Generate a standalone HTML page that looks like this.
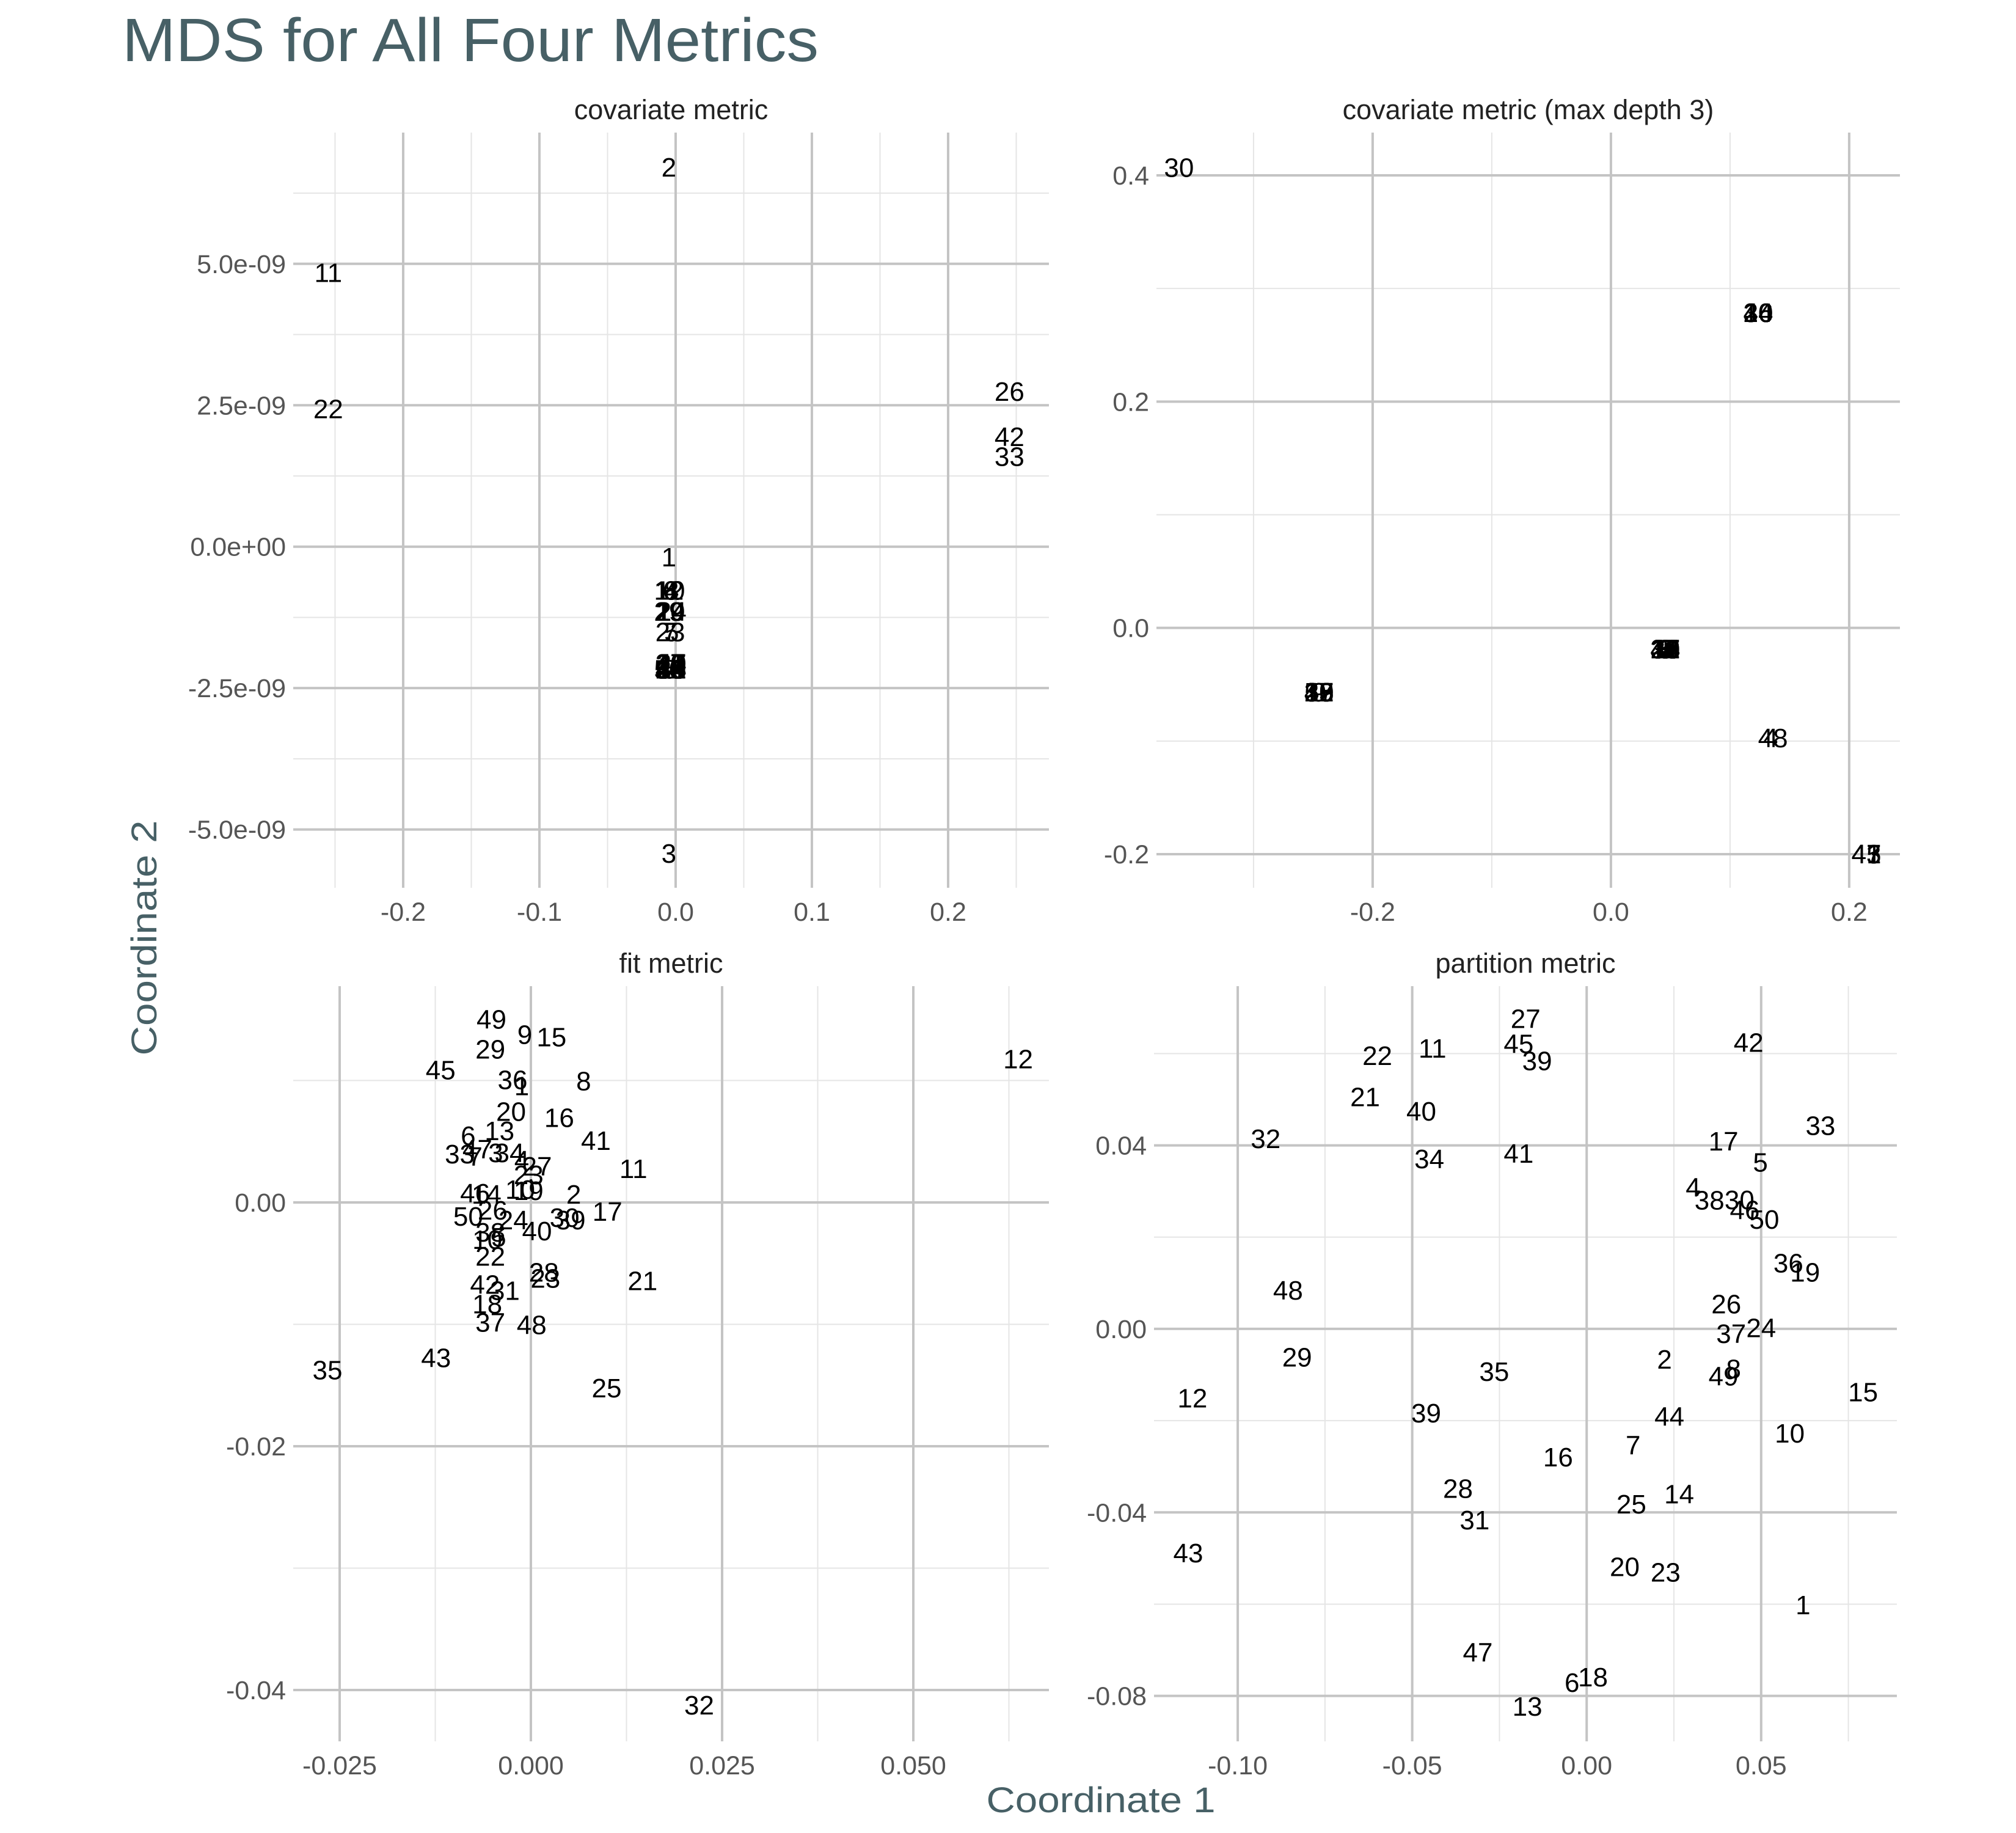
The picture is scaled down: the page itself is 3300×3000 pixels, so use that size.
<!DOCTYPE html>
<html><head><meta charset="utf-8">
<style>
html,body{margin:0;padding:0;background:#fff;}
svg{display:block;}
text{font-family:"Liberation Sans",sans-serif;}
</style></head>
<body>
<svg id="chart" width="3300" height="3000" viewBox="0 0 3300 3000" xmlns="http://www.w3.org/2000/svg">
<rect width="3300" height="3000" fill="#fff"/>
<text x="200" y="100" font-size="100" fill="#476066" textLength="1140" lengthAdjust="spacingAndGlyphs">MDS for All Four Metrics</text>
<text x="1802" y="2966" font-size="58" fill="#476066" text-anchor="middle" textLength="375" lengthAdjust="spacingAndGlyphs">Coordinate 1</text>
<text transform="translate(256,1535) rotate(-90)" font-size="58" fill="#476066" text-anchor="middle" textLength="385" lengthAdjust="spacingAndGlyphs">Coordinate 2</text>
<g id="panels"></g>
</svg>
<script>
// ---- Panel 1: covariate metric ----
const p1Labels = ["2","11","22","26","42","33","1","3",
 "10","4","6","8","12",
 "20","14","19","29","24",
 "23","5","7",
 "30","40","41","49","17","27","37","44","46","47",
 "50","38","39","9","13","15","16","18","21","28","31","32","34","35","36","43","45","48"];
const p1X = [-0.005,-0.255,-0.255,0.245,0.245,0.245,-0.005,-0.005,
 -0.004,-0.003,-0.004,-0.003,-0.005,
 -0.004,-0.003,-0.004,-0.005,-0.003,
 -0.004,-0.003,-0.004,
 -0.004,-0.003,-0.004,-0.003,-0.004,-0.003,-0.004,-0.003,-0.004,-0.003,
 -0.005,-0.004,-0.003,-0.004,-0.003,-0.004,-0.003,-0.004,-0.003,-0.004,-0.003,-0.004,-0.003,-0.004,-0.003,-0.004,-0.003,-0.004];
const p1Y = [6.67e-9,4.81e-9,2.40e-9,2.71e-9,1.91e-9,1.56e-9,-0.22e-9,-5.46e-9,
 -0.81e-9,-0.81e-9,-0.81e-9,-0.81e-9,-0.81e-9,
 -1.18e-9,-1.18e-9,-1.18e-9,-1.18e-9,-1.18e-9,
 -1.54e-9,-1.54e-9,-1.54e-9,
 -2.10e-9,-2.10e-9,-2.10e-9,-2.10e-9,-2.10e-9,-2.10e-9,-2.10e-9,-2.10e-9,-2.10e-9,-2.10e-9,
 -2.20e-9,-2.20e-9,-2.20e-9,-2.20e-9,-2.20e-9,-2.20e-9,-2.20e-9,-2.20e-9,-2.20e-9,-2.20e-9,-2.20e-9,-2.20e-9,-2.20e-9,-2.20e-9,-2.20e-9,-2.20e-9,-2.20e-9,-2.20e-9];
const p1XTicks = [-0.2,-0.1,0,0.1,0.2];
const p1XTickLabels = ["-0.2","-0.1","0.0","0.1","0.2"];
const p1XMinor = [-0.25,-0.15,-0.05,0.05,0.15,0.25];
const p1YTicks = [-5e-9,-2.5e-9,0,2.5e-9,5e-9];
const p1YTickLabels = ["-5.0e-09","-2.5e-09","0.0e+00","2.5e-09","5.0e-09"];
const p1YMinor = [-3.75e-9,-1.25e-9,1.25e-9,3.75e-9,6.25e-9];

// ---- Panel 2: covariate metric (max depth 3) ----
const p2Labels = ["30",
 "20","26","34","40","46","16","36",
 "12","22","29","32","35","49","50","9","13","15","17",
 "1","2","3","5","6","7","8","10","11","14","18","19","21","23","24","25","27","28","31","33","37","38","39","42","44",
 "4","48",
 "41","43","45","47"];
const p2X = [-0.3626,
 0.1236,0.1236,0.1236,0.1236,0.1236,0.1236,0.1236,
 -0.245,-0.245,-0.245,-0.245,-0.245,-0.245,-0.245,-0.245,-0.245,-0.245,-0.245,
 0.0456,0.0456,0.0456,0.0456,0.0456,0.0456,0.0456,0.0456,0.0456,0.0456,0.0456,0.0456,0.0456,0.0456,0.0456,0.0456,0.0456,0.0456,0.0456,0.0456,0.0456,0.0456,0.0456,0.0456,0.0456,
 0.134,0.136,
 0.2144,0.2144,0.2144,0.2144];
const p2Y = [0.405,
 0.277,0.277,0.277,0.277,0.277,0.277,0.277,
 -0.0584,-0.0584,-0.0584,-0.0584,-0.0584,-0.0584,-0.0584,-0.0584,-0.0584,-0.0584,-0.0584,
 -0.0205,-0.0205,-0.0205,-0.0205,-0.0205,-0.0205,-0.0205,-0.0205,-0.0205,-0.0205,-0.0205,-0.0205,-0.0205,-0.0205,-0.0205,-0.0205,-0.0205,-0.0205,-0.0205,-0.0205,-0.0205,-0.0205,-0.0205,-0.0205,-0.0205,
 -0.099,-0.099,
 -0.2016,-0.2016,-0.2016,-0.2016];
const p2XTicks = [-0.2,0,0.2];
const p2XTickLabels = ["-0.2","0.0","0.2"];
const p2XMinor = [-0.3,-0.1,0.1];
const p2YTicks = [-0.2,0,0.2,0.4];
const p2YTickLabels = ["-0.2","0.0","0.2","0.4"];
const p2YMinor = [-0.1,0.1,0.3];

// ---- Panel 3: fit metric ----
const p3Labels = ["49","9","15","29","45","36","1","8","20","16","13","6","41","33","7","47","3","34","4","27","11","23","46","14","10","19","2","17","50","26","24","39","30","40","38","5","10","22","28","23","21","42","31","18","37","48","43","35","25","12","32"];
const p3X = [-0.00515,-0.0008,0.0027,-0.0053,-0.0118,-0.0024,-0.0012,0.0069,-0.0026,0.0037,-0.0041,-0.0082,0.0085,-0.0093,-0.0073,-0.0070,-0.0046,-0.0028,-0.0012,0.0008,0.0134,-0.0003,-0.0073,-0.0058,-0.0014,-0.0003,0.0056,0.0100,-0.0082,-0.0050,-0.0023,0.0052,0.0044,0.0008,-0.0053,-0.0042,-0.0057,-0.0053,0.0017,0.0019,0.0146,-0.0060,-0.0034,-0.0057,-0.0053,0.0001,-0.0124,-0.0266,0.0099,0.0637,0.0220];
const p3Y = [0.01485,0.0136,0.0134,0.0124,0.0107,0.0099,0.0094,0.0098,0.0073,0.0068,0.0057,0.0053,0.0049,0.0038,0.0036,0.0042,0.0039,0.0039,0.0033,0.0028,0.0026,0.0021,0.0006,0.0005,0.0009,0.0008,0.0005,-0.0009,-0.0013,-0.0008,-0.0016,-0.0016,-0.0014,-0.0025,-0.0026,-0.0030,-0.0032,-0.0046,-0.0059,-0.0064,-0.0066,-0.0069,-0.0074,-0.0085,-0.0100,-0.0102,-0.0129,-0.0139,-0.0154,0.0116,-0.0414];
const p3XTicks = [-0.025,0,0.025,0.05];
const p3XTickLabels = ["-0.025","0.000","0.025","0.050"];
const p3XMinor = [-0.0125,0.0125,0.0375,0.0625];
const p3YTicks = [-0.04,-0.02,0];
const p3YTickLabels = ["-0.04","-0.02","0.00"];
const p3YMinor = [-0.03,-0.01,0.01];

// ---- Panel 4: partition metric ----
const p4Labels = ["27","42","22","11","45","39","21","40","33","32","17","34","41","5","4","38","30","46","50","36","19","48","26","37","24","29","2","35","8","49","15","12","39","44","10","7","16","28","14","25","31","43","20","23","1","47","18","6","13"];
const p4X = [-0.0175,0.0464,-0.060,-0.0442,-0.0195,-0.0142,-0.0635,-0.0474,0.0670,-0.092,0.0392,-0.0451,-0.0195,0.0498,0.0305,0.0352,0.0438,0.0453,0.0509,0.0578,0.0626,-0.0856,0.0400,0.0414,0.0500,-0.0830,0.0223,-0.0265,0.0421,0.0392,0.0792,-0.113,-0.046,0.0237,0.0582,0.0133,-0.0082,-0.0369,0.0265,0.0128,-0.0321,-0.1142,0.0109,0.0226,0.0620,-0.0312,0.0018,-0.0042,-0.0170];
const p4Y = [0.0672,0.0620,0.0591,0.0607,0.0617,0.0580,0.0501,0.0470,0.0439,0.0410,0.0405,0.0366,0.0378,0.0359,0.0304,0.0276,0.0277,0.0255,0.0234,0.0139,0.0119,0.0080,0.0050,-0.0015,-0.0002,-0.0066,-0.0071,-0.0097,-0.0091,-0.0107,-0.0142,-0.0155,-0.0188,-0.0195,-0.0232,-0.0258,-0.0284,-0.0352,-0.0364,-0.0386,-0.0421,-0.0493,-0.0523,-0.0535,-0.0606,-0.0709,-0.0763,-0.0775,-0.0827];
const p4XTicks = [-0.1,-0.05,0,0.05];
const p4XTickLabels = ["-0.10","-0.05","0.00","0.05"];
const p4XMinor = [-0.075,-0.025,0.025,0.075];
const p4YTicks = [-0.08,-0.04,0,0.04];
const p4YTickLabels = ["-0.08","-0.04","0.00","0.04"];
const p4YMinor = [-0.06,-0.02,0.02,0.06];

const NS = "http://www.w3.org/2000/svg";
const root = document.getElementById("panels");

function mk(tag, attrs, parent) {
  const el = document.createElementNS(NS, tag);
  for (const k in attrs) el.setAttribute(k, attrs[k]);
  parent.appendChild(el);
  return el;
}

function drawPanel(key, title, box, dom, labels, xs, ys, xt, xtl, xm, yt, ytl, ym) {
  const g = mk("g", {}, root);
  
  
  const sx = v => box.x0 + (v - dom.x0) / (dom.x1 - dom.x0) * (box.x1 - box.x0);
  const sy = v => box.y1 - (v - dom.y0) / (dom.y1 - dom.y0) * (box.y1 - box.y0);
  xm.forEach(v => {
    if (v < dom.x0 || v > dom.x1) return;
    const l = mk("line", {x1: sx(v), x2: sx(v), y1: box.y0, y2: box.y1, stroke: "#e5e5e5", "stroke-width": 2}, g);
    
    
  });
  ym.forEach(v => {
    if (v < dom.y0 || v > dom.y1) return;
    const l = mk("line", {x1: box.x0, x2: box.x1, y1: sy(v), y2: sy(v), stroke: "#e5e5e5", "stroke-width": 2}, g);
    
    
  });
  xt.forEach((v, i) => {
    const l = mk("line", {x1: sx(v), x2: sx(v), y1: box.y0, y2: box.y1, stroke: "#c4c4c4", "stroke-width": 4}, g);
    
    
    const t = mk("text", {x: sx(v), y: box.y1 + 54, "font-size": 43, fill: "#555", "text-anchor": "middle"}, g);
    t.textContent = xtl[i];
    
    
  });
  yt.forEach((v, i) => {
    const l = mk("line", {x1: box.x0, x2: box.x1, y1: sy(v), y2: sy(v), stroke: "#c4c4c4", "stroke-width": 4}, g);
    
    
    const t = mk("text", {x: box.x0 - 12, y: sy(v) + 15, "font-size": 43, fill: "#555", "text-anchor": "end"}, g);
    t.textContent = ytl[i];
    
    
  });
  const tt = mk("text", {x: (box.x0 + box.x1) / 2, y: box.y0 - 22, "font-size": 45, fill: "#222", "text-anchor": "middle"}, g);
  tt.textContent = title;
  
  
  labels.forEach((lab, i) => {
    const t = mk("text", {x: sx(xs[i]), y: sy(ys[i]) + 12, "font-size": 44, fill: "#000", "text-anchor": "middle"}, g);
    t.textContent = lab;
    
    
  });
}

drawPanel("covariate", "covariate metric",
  {x0: 480, x1: 1717, y0: 217, y1: 1453},
  {x0: -0.2807, x1: 0.274, y0: -6.03e-9, y1: 7.32e-9},
  p1Labels, p1X, p1Y, p1XTicks, p1XTickLabels, p1XMinor, p1YTicks, p1YTickLabels, p1YMinor);
drawPanel("covariate-depth3", "covariate metric (max depth 3)",
  {x0: 1893, x1: 3110, y0: 217, y1: 1453},
  {x0: -0.3815, x1: 0.2426, y0: -0.2297, y1: 0.4378},
  p2Labels, p2X, p2Y, p2XTicks, p2XTickLabels, p2XMinor, p2YTicks, p2YTickLabels, p2YMinor);
drawPanel("fit", "fit metric",
  {x0: 480, x1: 1717, y0: 1614, y1: 2850},
  {x0: -0.03107, x1: 0.06773, y0: -0.04421, y1: 0.01774},
  p3Labels, p3X, p3Y, p3XTicks, p3XTickLabels, p3XMinor, p3YTicks, p3YTickLabels, p3YMinor);
drawPanel("partition", "partition metric",
  {x0: 1889, x1: 3105, y0: 1614, y1: 2850},
  {x0: -0.124, x1: 0.0889, y0: -0.0899, y1: 0.0747},
  p4Labels, p4X, p4Y, p4XTicks, p4XTickLabels, p4XMinor, p4YTicks, p4YTickLabels, p4YMinor);
</script>
</body></html>
